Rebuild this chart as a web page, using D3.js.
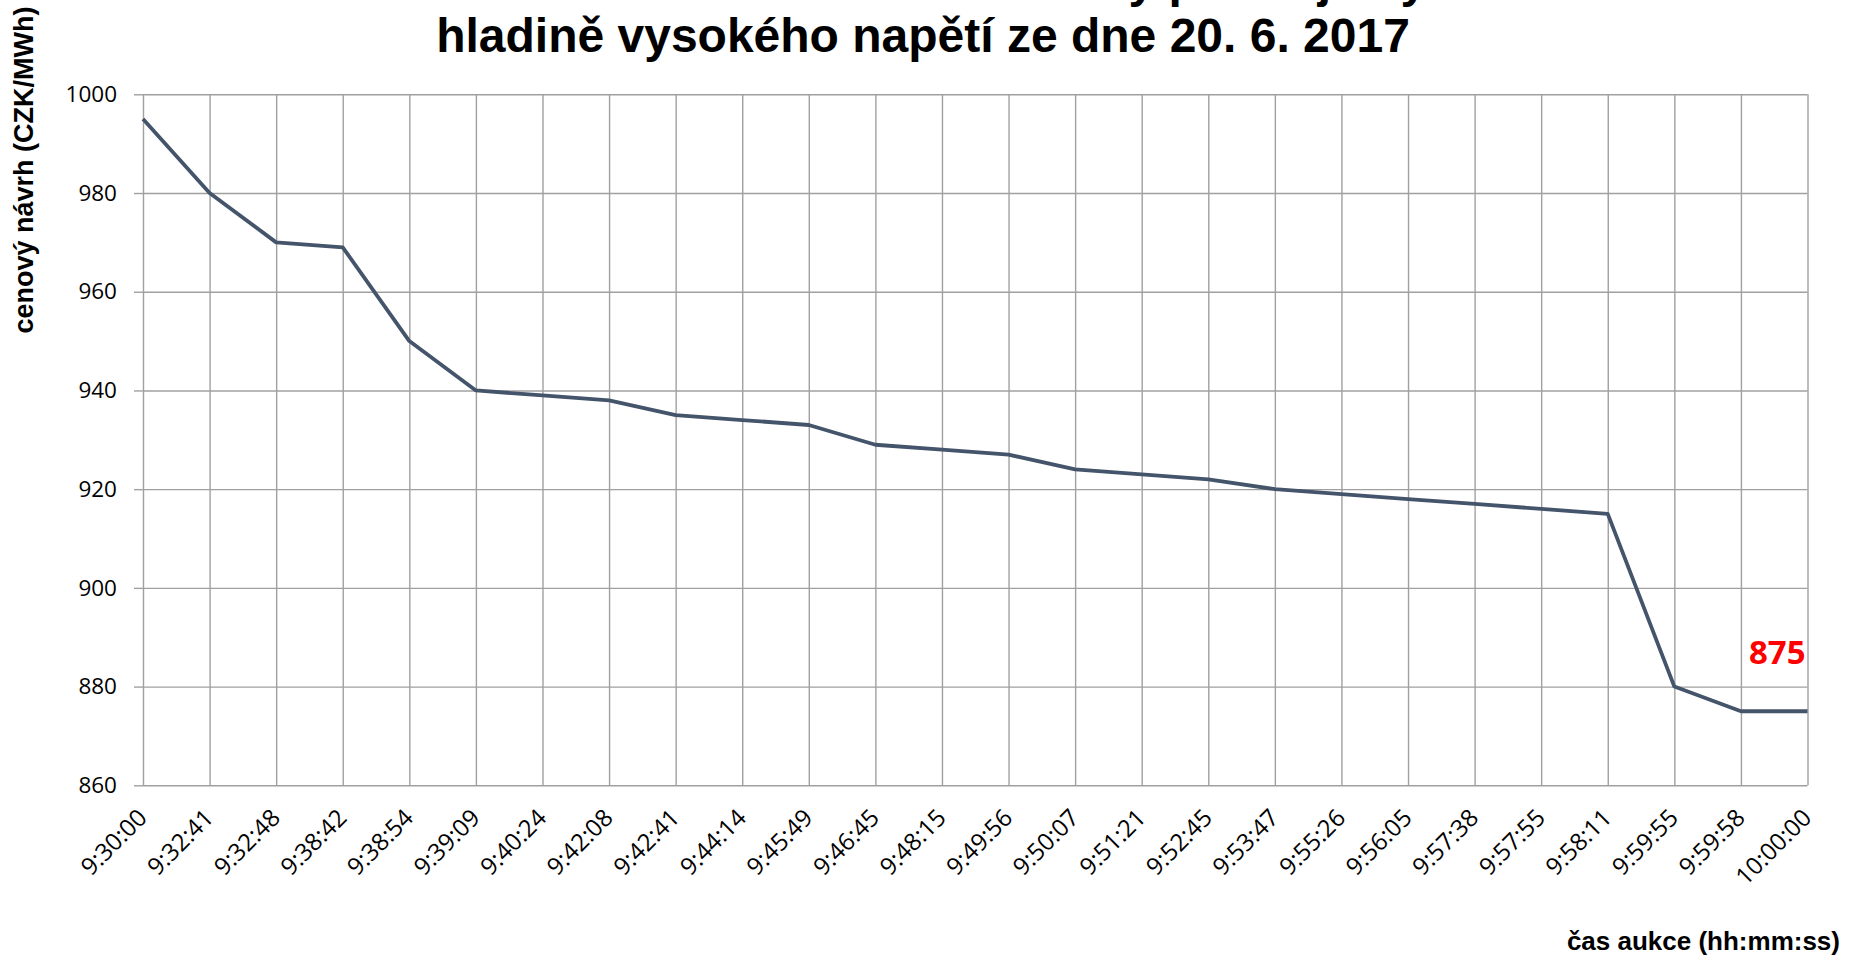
<!DOCTYPE html>
<html><head><meta charset="utf-8">
<script src="https://cdnjs.cloudflare.com/ajax/libs/d3/7.8.5/d3.min.js"></script>
<style>
html,body{margin:0;padding:0;background:#fff;overflow:hidden;}
svg{display:block;}
</style></head>
<body><svg id="c" width="1856" height="955"></svg>
<script>
const categories = ["9:30:00","9:32:41","9:32:48","9:38:42","9:38:54","9:39:09","9:40:24","9:42:08","9:42:41","9:44:14","9:45:49","9:46:45","9:48:15","9:49:56","9:50:07","9:51:21","9:52:45","9:53:47","9:55:26","9:56:05","9:57:38","9:57:55","9:58:11","9:59:55","9:59:58","10:00:00"];
const values = [995,980,970,969,950,940,939,938,935,934,933,929,928,927,924,923,922,920,919,918,917,916,915,880,875,875];
const yTicks = [860,880,900,920,940,960,980,1000];
const titleLines = ["Průběh aukce na dodávku elektřiny pro objekty na","hladině vysokého napětí ze dne 20. 6. 2017"];
const yTitle = "cenový návrh (CZK/MWh)";
const xTitle = "čas aukce (hh:mm:ss)";
const finalLabel = "875";

const svg = d3.select("#c");
const L = 143, R = 1807.5, T = 94.3, B = 785.3;
const x = d3.scalePoint().domain(categories).range([L, R]).padding(0);
const y = d3.scaleLinear().domain([860, 1000]).range([B, T]);
const grid = "#a0a0a0";

// horizontal gridlines + left ticks via axis
const ya = svg.append("g").attr("transform", `translate(${L},0)`)
  .call(d3.axisLeft(y).tickValues(yTicks).tickSize(9).tickPadding(17).tickFormat(d3.format("d")));
ya.select(".domain").remove();
ya.selectAll(".tick line").attr("stroke", grid).attr("stroke-width", 1.4);
ya.selectAll(".tick").append("line").attr("x1", 0).attr("x2", R - L).attr("stroke", grid).attr("stroke-width", 1.4);
ya.selectAll(".tick text").attr("font-family", "'Open Sans', sans-serif").attr("font-size", 22.5).attr("fill", "#000");

// vertical gridlines
const xa = svg.append("g").attr("transform", `translate(0,${B})`)
  .call(d3.axisBottom(x).tickSize(0).tickPadding(0));
xa.select(".domain").remove();
xa.selectAll(".tick").append("line").attr("y1", 0).attr("y2", -(B - T)).attr("stroke", grid).attr("stroke-width", 1.4);
xa.selectAll(".tick text")
  .attr("font-family", "'Open Sans', sans-serif").attr("font-size", 24).attr("fill", "#000")
  .attr("text-anchor", "end").attr("dy", "0.35em")
  .attr("transform", "translate(-1,28) rotate(-45)");

// line
svg.append("path").datum(values.map((v, i) => [categories[i], v]))
  .attr("fill", "none").attr("stroke", "#44546A").attr("stroke-width", 3.8)
  .attr("stroke-linejoin", "round")
  .attr("d", d3.line().x(d => x(d[0])).y(d => y(d[1])));

// final label
svg.append("text").attr("x", R - 2).attr("y", y(884.6))
  .attr("text-anchor", "end").attr("font-family", "'Open Sans', sans-serif")
  .attr("font-weight", "bold").attr("font-size", 33).attr("fill", "#ff0000").text(finalLabel);

// titles
const tf = "'Liberation Sans', Arial, sans-serif";
svg.append("text").attr("x", 923).attr("y", -3).attr("text-anchor", "middle")
  .attr("font-family", tf).attr("font-weight", "bold").attr("font-size", 48).text(titleLines[0]);
svg.append("text").attr("x", 923).attr("y", 52).attr("text-anchor", "middle")
  .attr("font-family", tf).attr("font-weight", "bold").attr("font-size", 48).text(titleLines[1]);

svg.append("text").attr("transform", "translate(33,170) rotate(-90)").attr("text-anchor", "middle")
  .attr("font-family", tf).attr("font-weight", "bold").attr("font-size", 27).text(yTitle);
svg.append("text").attr("x", 1840).attr("y", 950).attr("text-anchor", "end")
  .attr("font-family", tf).attr("font-weight", "bold").attr("font-size", 26).text(xTitle);
</script></body></html>
